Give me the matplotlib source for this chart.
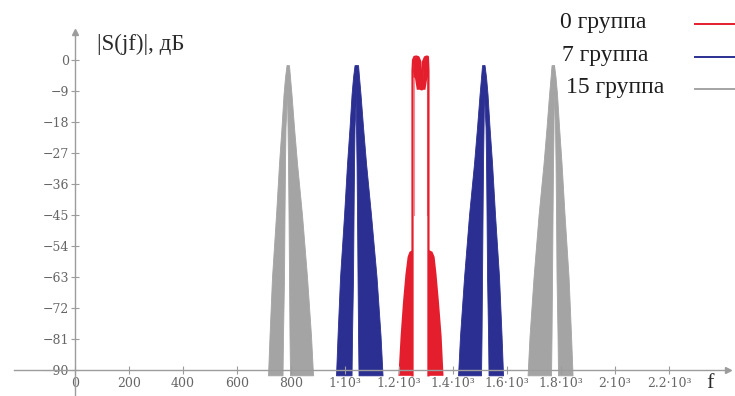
import matplotlib
matplotlib.use('Agg')
import matplotlib.pyplot as plt

# dB levels of the lobe outlines, bottom to top
db_levels = [-91.5, -80, -63, -45, -30, -19.5, -10, -5, -1.5]

# 15 group, lower band (around 790)
g15_lo_outer_l = [714.8, 720.4, 729.6, 744.4, 755.6, 764.8, 772.2, 777.8, 783.4]
g15_lo_gap_l = [768.6, 770.4, 774.1, 775.9, 777.8, 779.6, 785.2, 785.2, 785.2]
g15_lo_gap_r = [796.3, 794.4, 792.6, 790.8, 788.9, 787.1, 785.2, 785.2, 785.2]
g15_lo_outer_r = [881.6, 874.1, 859.3, 840.8, 822.3, 811.1, 801.9, 796.3, 792.6]

# 7 group, lower band (around 1040)
g7_lo_outer_l = [966.7, 972.3, 981.6, 996.4, 1007.5, 1016.8, 1024.2, 1029.7, 1035.3]
g7_lo_gap_l = [1024.2, 1026.0, 1029.7, 1031.6, 1033.4, 1035.3, 1040.8, 1040.8, 1040.8]
g7_lo_gap_r = [1050.1, 1048.3, 1046.4, 1044.5, 1042.7, 1040.8, 1040.8, 1040.8, 1040.8]
g7_lo_outer_r = [1139.0, 1131.6, 1116.8, 1096.4, 1077.9, 1066.8, 1057.5, 1052.0, 1048.3]

# 7 group, upper band (around 1515)
g7_hi_outer_l = [1418.6, 1426.0, 1440.9, 1459.3, 1477.8, 1489.0, 1498.3, 1503.8, 1507.5]
g7_hi_gap_l = [1503.8, 1505.7, 1507.5, 1509.4, 1511.2, 1513.1, 1514.9, 1514.9, 1514.9]
g7_hi_gap_r = [1531.6, 1529.8, 1526.1, 1524.2, 1522.4, 1520.5, 1514.9, 1514.9, 1514.9]
g7_hi_outer_r = [1585.3, 1579.8, 1570.5, 1555.7, 1544.6, 1535.3, 1527.9, 1522.4, 1516.8]

# 15 group, upper band (around 1770)
g15_hi_outer_l = [1676.1, 1683.5, 1698.3, 1716.8, 1735.3, 1746.4, 1755.7, 1761.3, 1764.9]
g15_hi_gap_l = [1763.1, 1764.9, 1766.8, 1768.6, 1770.5, 1772.3, 1772.3, 1772.3, 1772.3]
g15_hi_gap_r = [1788.9, 1787.1, 1783.4, 1781.6, 1779.8, 1777.9, 1772.3, 1772.3, 1772.3]
g15_hi_outer_r = [1842.8, 1837.2, 1828.0, 1813.2, 1802.0, 1792.8, 1785.3, 1779.8, 1774.2]

# 0 group: side lobes
red_side_db = [-91.5, -80, -70, -62, -57, -55.5, -55]
red_side_l_outer = [1196, 1204, 1213, 1222, 1230, 1237, 1250]
red_side_l_inner = [1250, 1250, 1250, 1250, 1250, 1250, 1250]
red_side_r_inner = [1309, 1309, 1309, 1309, 1309, 1309, 1309]
red_side_r_outer = [1363, 1356, 1346, 1337, 1330, 1322, 1309]

# 0 group: main lobe outline
red_main_f = [1250, 1250, 1252, 1257, 1264, 1272, 1279, 1282, 1286, 1289, 1296, 1303, 1307, 1309, 1309]
red_main_db = [-91.5, -3, 0, 0.9, 1.0, 0.8, -0.5, -8.5, -8.5, -0.5, 0.8, 1.0, 0.9, -3, -91.5]

# 0 group: ripple on top of main lobe
red_top_l_f = [1250, 1252, 1257, 1264, 1272, 1279, 1282]
red_top_l_hi = [-3, 0, 0.9, 1.0, 0.8, -0.5, -8.5]
red_top_l_lo = [-3, -5, -5, -8.5, -8.5, -8.5, -8.5]
red_top_r_f = [1286, 1289, 1296, 1303, 1307, 1309]
red_top_r_hi = [-8.5, -0.5, 0.8, 1.0, 0.9, -3]
red_top_r_lo = [-8.5, -8.5, -8.5, -5, -5, -3]

x_ticks = [0, 200, 400, 600, 800, 1000, 1200, 1400, 1600, 1800, 2000, 2200]
x_labels = ['0', '200', '400', '600', '800', '1·10³', '1.2·10³', '1.4·10³',
            '1.6·10³', '1.8·10³', '2·10³', '2.2·10³']
y_ticks = [0, -9, -18, -27, -36, -45, -54, -63, -72, -81, -90]
y_labels = ['0'] + ['−%d' % (-v) for v in y_ticks[1:]]

legend_labels = ['0 группа', '7 группа', '15 группа']

RED = '#e41e2c'
BLUE = '#2b2f92'
GRAY = '#a4a4a4'
AXC = '#9c9c9c'

fig = plt.figure(figsize=(7.35, 3.96), dpi=100)
ax = fig.add_axes([0, 0, 1, 1])
ax.set_xlim(-277.8, 2444.4)
ax.set_ylim(-97.5, 17.4)
ax.patch.set_visible(False)


def draw_group(outer_l, gap_l, gap_r, outer_r, color):
    ax.fill_betweenx(db_levels, outer_l, gap_l, color=color, lw=0.6, edgecolor=color)
    ax.fill_betweenx(db_levels, gap_r, outer_r, color=color, lw=0.6, edgecolor=color)


draw_group(g15_lo_outer_l, g15_lo_gap_l, g15_lo_gap_r, g15_lo_outer_r, GRAY)
draw_group(g7_lo_outer_l, g7_lo_gap_l, g7_lo_gap_r, g7_lo_outer_r, BLUE)
draw_group(g7_hi_outer_l, g7_hi_gap_l, g7_hi_gap_r, g7_hi_outer_r, BLUE)
draw_group(g15_hi_outer_l, g15_hi_gap_l, g15_hi_gap_r, g15_hi_outer_r, GRAY)

# 0 group
ax.fill_betweenx(red_side_db, red_side_l_outer, red_side_l_inner, color=RED, lw=0)
ax.fill_betweenx(red_side_db, red_side_r_inner, red_side_r_outer, color=RED, lw=0)
ax.plot(red_main_f, red_main_db, color=RED, lw=1.6)
ax.fill_between(red_top_l_f, red_top_l_lo, red_top_l_hi, color=RED, lw=0)
ax.fill_between(red_top_r_f, red_top_r_lo, red_top_r_hi, color=RED, lw=0)
ax.plot([1256, 1256], [-5, -45], color=RED, lw=0.8, alpha=0.5)
ax.plot([1303, 1303], [-5, -45], color=RED, lw=0.8, alpha=0.5)

# axes through the origin with arrows
for s in ['top', 'right']:
    ax.spines[s].set_visible(False)
ax.spines['left'].set_position(('data', 0))
ax.spines['bottom'].set_position(('data', -90))
ax.spines['left'].set_bounds(-97.5, 8)
ax.spines['bottom'].set_bounds(-225, 2415)
for s in ['left', 'bottom']:
    ax.spines[s].set_color(AXC)
    ax.spines[s].set_linewidth(1.0)
ax.plot(0, 8, marker='^', ms=5, color=AXC, clip_on=False)
ax.plot(2420, -90, marker='>', ms=5, color=AXC, clip_on=False)

ax.set_xticks(x_ticks)
ax.set_xticklabels(x_labels)
ax.set_yticks(y_ticks)
ax.set_yticklabels(y_labels)
ax.tick_params(direction='inout', length=6, width=0.8, color=AXC,
               labelcolor='#666666', labelsize=9)
ax.tick_params(axis='x', pad=2)
ax.tick_params(axis='y', pad=1)
for lab in ax.get_xticklabels() + ax.get_yticklabels():
    lab.set_family('DejaVu Serif')

ax.text(81, 4.6, '|S(jf)|, дБ', fontsize=16.5, family='Liberation Serif',
        color='#2a2a2a', va='center', ha='left')
ax.text(2352, -93.8, 'f', fontsize=16, family='Liberation Serif',
        color='#2a2a2a', va='center', ha='center')

# legend, text on the left and line on the right
leg_y = [0.942, 0.859, 0.778]
leg_x = [0.762, 0.765, 0.770]
for lab, col, x, y in zip(legend_labels, [RED, BLUE, GRAY], leg_x, leg_y):
    fig.text(x, y, lab, fontsize=17, family='Liberation Serif', color='#1e1e1e',
             va='center', ha='left')
    fig.add_artist(plt.Line2D([0.946, 1.0], [y - 0.003, y - 0.003], color=col,
                              lw=1.4, transform=fig.transFigure))

fig.savefig('out.png', dpi=100)
